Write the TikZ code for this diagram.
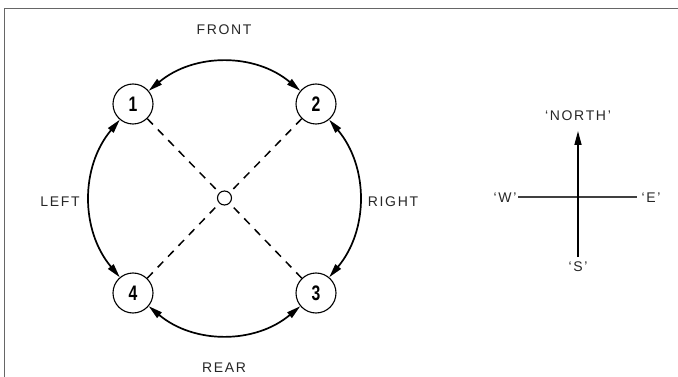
\documentclass[tikz,border=0pt]{standalone}
\usepackage{fontspec}
\setmainfont{Liberation Sans}
\newfontfamily\lblfont{Liberation Sans}[LetterSpace=12]
\newfontfamily\numfont{Liberation Sans}[FakeStretch=0.75]
\usetikzlibrary{arrows.meta}
\begin{document}
\begin{tikzpicture}[x={(1pt,0pt)}, y={(0pt,-1pt)}, >={Triangle[length=14pt,width=7pt]},
          lbl/.style={font=\lblfont\fontsize{14}{15}\selectfont, text=black!85},
          seat/.style={circle, draw=black, line width=1.1pt, minimum size=40pt, inner sep=0pt,
                       font=\numfont\bfseries\fontsize{21}{21}\selectfont},
          hub/.style={circle, draw=black, line width=1.1pt, minimum size=14pt, inner sep=0pt},
          link/.style={<->, line width=1.7pt},
          diag/.style={line width=1.5pt, dash pattern=on 8pt off 7pt}]
        \useasboundingbox (0,0) rectangle (678,377);
        \draw[black!60, line width=0.8pt] (4,377) -- (4,8) -- (678,8);
        \node[seat] (n1) at (133,104) {1};
        \node[seat] (n2) at (316,104) {2};
        \node[seat] (n3) at (316,293) {3};
        \node[seat] (n4) at (133,293) {4};
        \node[hub] (c) at (224.5,198) {};
        \draw[diag] (n1) -- (c);
        \draw[diag] (n2) -- (c);
        \draw[diag] (n3) -- (c);
        \draw[diag] (n4) -- (c);
        \draw[link] (n1) to[bend left=40] (n2);
        \draw[link] (n2) to[bend left=40] (n3);
        \draw[link] (n3) to[bend left=40] (n4);
        \draw[link] (n4) to[bend left=40] (n1);
        \node[lbl] (front) at (224,30) {FRONT};
        \node[lbl] (rear) at (224,368) {REAR};
        \node[lbl] (left) at (60,202) {LEFT};
        \node[lbl] (right) at (393,202) {RIGHT};
        \coordinate (ns) at (578,257);
        \coordinate (nn) at (578,131);
        \coordinate (ww) at (518,197);
        \coordinate (ee) at (637,197);
        \draw[black!75, line width=2.2pt] (ww) -- (ee);
        \draw[->, line width=1.5pt] (ns) -- (nn);
        \node[lbl] (north) at (578,116) {‘NORTH’};
        \node[lbl] (south) at (578,267) {‘S’};
        \node[lbl] (west) at (505,198) {‘W’};
        \node[lbl] (east) at (651,198) {‘E’};
\end{tikzpicture}
\end{document}
